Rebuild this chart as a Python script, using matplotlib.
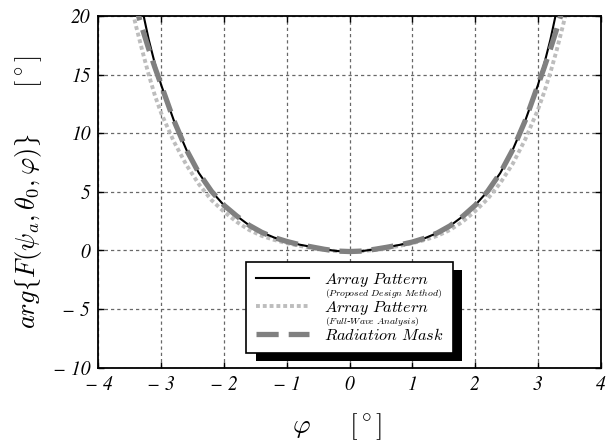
import matplotlib
matplotlib.use('Agg')
import matplotlib.pyplot as plt
from matplotlib.patches import Rectangle

plt.rcParams['mathtext.fontset'] = 'cm'

# Array pattern (proposed design method)
phi_prop = [-3.4, -3.3, -3.2, -3.1, -3.0, -2.8, -2.6, -2.4, -2.2, -2.0, -1.8, -1.6, -1.4, -1.2, -1.0, -0.8, -0.6, -0.4, -0.2, 0.0,
            0.2, 0.4, 0.6, 0.8, 1.0, 1.2, 1.4, 1.6, 1.8, 2.0, 2.2, 2.4, 2.6, 2.8, 3.0, 3.1, 3.2, 3.3, 3.4]
arg_prop = [23.0, 20.5, 18.0, 15.9, 14.1, 11.1, 8.6, 6.6, 5.05, 3.85, 2.95, 2.15, 1.55, 1.1, 0.77, 0.5, 0.3, 0.1, -0.05, -0.09,
            -0.05, 0.1, 0.28, 0.48, 0.72, 1.05, 1.5, 2.1, 2.9, 3.85, 5.05, 6.6, 8.6, 11.1, 14.1, 15.9, 18.0, 20.5, 23.0]

# Array pattern (full-wave analysis)
phi_fw = [-3.5, -3.4, -3.3, -3.2, -3.1, -3.0, -2.8, -2.6, -2.4, -2.2, -2.0, -1.8, -1.6, -1.4, -1.2, -1.0, -0.8, -0.6, -0.4, -0.2, 0.0,
          0.2, 0.4, 0.6, 0.8, 1.0, 1.2, 1.4, 1.6, 1.8, 2.0, 2.2, 2.4, 2.6, 2.8, 3.0, 3.1, 3.2, 3.3, 3.4, 3.5]
arg_fw = [21.4, 19.1, 17.0, 15.0, 13.2, 11.7, 9.3, 7.3, 5.65, 4.3, 3.3, 2.45, 1.75, 1.25, 0.9, 0.62, 0.4, 0.2, 0.05, -0.06, -0.09,
          -0.06, 0.05, 0.2, 0.4, 0.62, 0.9, 1.25, 1.75, 2.45, 3.35, 4.4, 5.75, 7.4, 9.5, 12.0, 13.5, 15.2, 17.1, 19.2, 21.4]

# Radiation mask
phi_mask = [-3.5, -3.4, -3.3, -3.2, -3.1, -3.0, -2.8, -2.6, -2.4, -2.2, -2.0, -1.8, -1.6, -1.4, -1.2, -1.0, -0.8, -0.6, -0.4, -0.2, 0.0,
            0.2, 0.4, 0.6, 0.8, 1.0, 1.2, 1.4, 1.6, 1.8, 2.0, 2.2, 2.4, 2.6, 2.8, 3.0, 3.1, 3.2, 3.3, 3.4, 3.5]
arg_mask = [22.5, 20.7, 18.9, 17.2, 15.6, 14.1, 11.1, 8.6, 6.6, 5.05, 3.85, 2.95, 2.15, 1.55, 1.1, 0.77, 0.5, 0.3, 0.1, -0.05, -0.09,
            -0.05, 0.1, 0.28, 0.48, 0.72, 1.05, 1.5, 2.1, 2.9, 3.85, 5.05, 6.6, 8.6, 11.1, 14.1, 15.6, 17.2, 18.9, 20.7, 22.5]

xticks = [-4, -3, -2, -1, 0, 1, 2, 3, 4]
yticks = [-10, -5, 0, 5, 10, 15, 20]

labels = [r'$Array\ Pattern$', r'$Array\ Pattern$', r'$Radiation\ Mask$']
sublabels = [r'$(Proposed\ Design\ Method)$', r'$(Full$-$Wave\ Analysis)$', None]


def tick_txt(v):
    return '\u2212 %d' % abs(v) if v < 0 else '%d' % v


fig = plt.figure(figsize=(6.06, 4.45), dpi=100)
ax = fig.add_axes([0.1625, 0.1737, 0.8287, 0.7903])

l2, = ax.plot(phi_fw, arg_fw, color='#bdbdbd', lw=2.8, linestyle=(0, (1, 0.75)),
              dash_capstyle='butt', zorder=2)
l1, = ax.plot(phi_prop, arg_prop, color='black', lw=1.5, zorder=3)
l3, = ax.plot(phi_mask, arg_mask, color='#808080', lw=3.8, linestyle=(0, (4.2, 1.9)),
              dash_capstyle='butt', zorder=4)

ax.set_xlim(-4, 4)
ax.set_ylim(-10, 20)
ax.set_xticks(xticks)
ax.set_yticks(yticks)
ax.set_xticklabels([tick_txt(v) for v in xticks], fontfamily='STIXGeneral', fontstyle='italic', fontsize=14)
ax.set_yticklabels([tick_txt(v) for v in yticks], fontfamily='STIXGeneral', fontstyle='italic', fontsize=14)
ax.tick_params(direction='in', length=4, width=1, top=True, right=True, pad=6)
ax.grid(True, color='#686868', lw=0.9, linestyle=(0, (2.6, 2.4)))
for s in ax.spines.values():
    s.set_linewidth(1.3)

ax.set_xlabel(r'$\varphi\quad\ \ [^\circ]$', fontsize=19.5)
ax.set_ylabel(r'$arg\mathcal{f}F(\psi_a,\theta_0,\varphi)\mathcal{g}\quad\quad[^\circ]$', fontsize=19, labelpad=6)
ax.xaxis.set_label_coords(0.475, -0.123)

leg = ax.legend([l1, l2, l3], labels, loc='lower center', bbox_to_anchor=(0.5, 0.043),
                borderaxespad=0, fontsize=11.7, handlelength=3.25, handletextpad=0.95,
                labelspacing=0.62, borderpad=0.58, fancybox=False, framealpha=1,
                edgecolor='black')
leg.get_frame().set_linewidth(1.2)
leg.set_zorder(6)

fig.canvas.draw()
inv = ax.transAxes.inverted()
for t, sub in zip(leg.get_texts(), sublabels):
    if sub is None:
        continue
    bb = t.get_window_extent()
    x0, y0 = inv.transform((bb.x0 + 1, bb.y0 + 2))
    ax.text(x0, y0, sub, transform=ax.transAxes, fontsize=7, va='top', ha='left', zorder=7)

fb = leg.get_frame().get_window_extent()
(sx0, sy0) = inv.transform((fb.x0 + 9.5, fb.y0 - 8))
(sx1, sy1) = inv.transform((fb.x1 + 9.5, fb.y1 - 8))
ax.add_patch(Rectangle((sx0, sy0), sx1 - sx0, sy1 - sy0, transform=ax.transAxes,
                       facecolor='black', edgecolor='none', zorder=5.5, clip_on=False))

fig.savefig('out.png', dpi=100)
